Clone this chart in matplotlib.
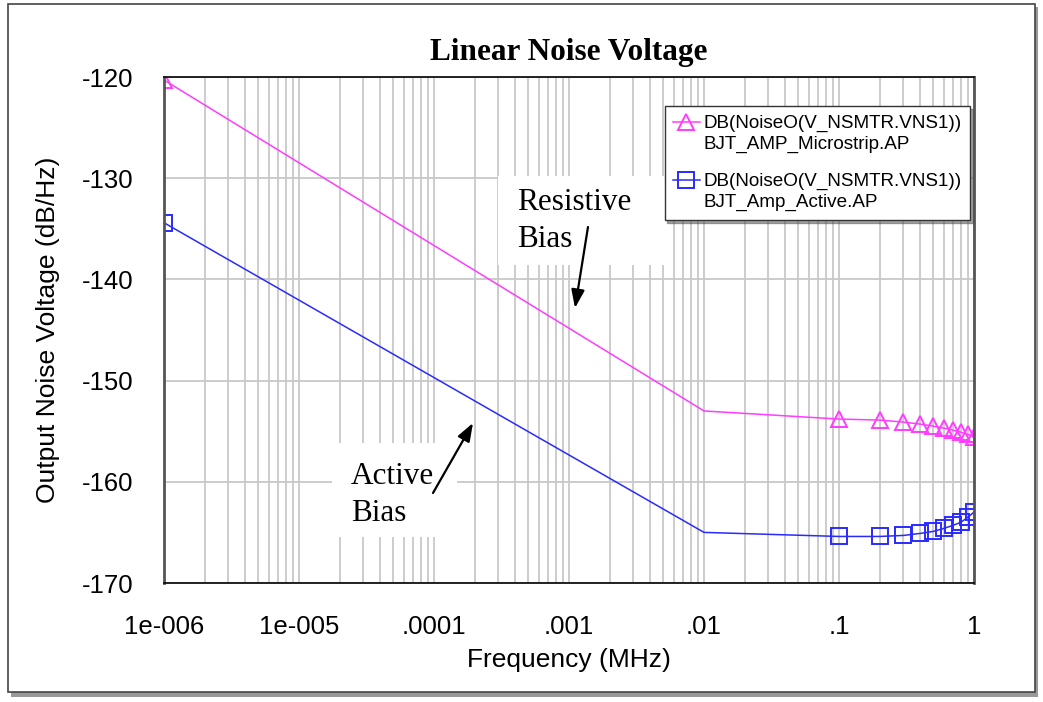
import matplotlib
matplotlib.use("Agg")
import matplotlib.pyplot as plt
import matplotlib.transforms as mtransforms
from matplotlib.patches import Rectangle
from matplotlib.legend_handler import HandlerLine2D
from matplotlib.ticker import FixedLocator, LogLocator, NullFormatter

# ---- data ----
freq = [1e-6, 0.01, 0.1, 0.2, 0.3, 0.4, 0.5, 0.6, 0.7, 0.8, 0.9, 1.0]
resistive = [-120.3, -153.0, -153.8, -153.9, -154.1, -154.3, -154.5, -154.7,
             -154.9, -155.1, -155.3, -155.6]
active = [-134.4, -165.0, -165.4, -165.4, -165.3, -165.1, -164.9, -164.6,
          -164.3, -164.0, -163.5, -163.0]
marker_idx = [0, 2, 3, 4, 5, 6, 7, 8, 9, 10, 11]
xticks = [1e-6, 1e-5, 1e-4, 1e-3, 1e-2, 1e-1, 1]
xticklabels = ["1e-006", "1e-005", ".0001", ".001", ".01", ".1", "1"]
yticks = [-170, -160, -150, -140, -130, -120]
legend_labels = ["DB(NoiseO(V_NSMTR.VNS1))\nBJT_AMP_Microstrip.AP",
                 "DB(NoiseO(V_NSMTR.VNS1))\nBJT_Amp_Active.AP"]

pink = "#ff3cff"
blue = "#2a2aff"
W, H = 1043, 702


class UpHandler(HandlerLine2D):
    """Legend handle aligned with the first line of a two-line label."""
    def __init__(self, dy, **kw):
        super().__init__(**kw)
        self.dy = dy

    def create_artists(self, legend, orig_handle, xdescent, ydescent, width,
                       height, fontsize, trans):
        t = mtransforms.Affine2D().translate(0, self.dy) + trans
        return super().create_artists(legend, orig_handle, xdescent, ydescent,
                                      width, height, fontsize, t)


fig = plt.figure(figsize=(W / 100, H / 100), dpi=100)
fig.patch.set_facecolor("white")

# outer frame with shadow
fig.patches.append(Rectangle((11 / W, 1 - 697 / H), 1027 / W, 690 / H,
                             transform=fig.transFigure, facecolor="#999999",
                             edgecolor="none", zorder=-2))
fig.patches.append(Rectangle((8 / W, 1 - 692 / H), 1027 / W, 688 / H,
                             transform=fig.transFigure, facecolor="white",
                             edgecolor="#444444", lw=1.2, zorder=-1))

ax = fig.add_axes([164 / W, 1 - 583 / H, 810 / W, 506 / H])
ax.set_zorder(1)
ax.set_xscale("log")
ax.set_xlim(1e-6, 1)
ax.set_ylim(-170, -120)

ax.xaxis.set_major_locator(FixedLocator(xticks))
ax.xaxis.set_minor_locator(LogLocator(base=10, subs=range(2, 10)))
ax.xaxis.set_minor_formatter(NullFormatter())
ax.set_xticks(xticks)
ax.set_xticklabels(xticklabels)
ax.set_yticks(yticks)
ax.set_yticklabels([str(v) for v in yticks])

ax.grid(which="major", axis="both", color="#c8c8c8", lw=1.3)
ax.grid(which="minor", axis="x", color="#c8c8c8", lw=1.3)
ax.set_axisbelow(True)
ax.tick_params(which="both", length=0, labelsize=18.5)
ax.tick_params(axis="y", pad=22)
ax.tick_params(axis="x", pad=23)
for lab in ax.get_xticklabels() + ax.get_yticklabels():
    lab.set_fontfamily("Liberation Sans")

for s in ax.spines.values():
    s.set_color("#111111")
    s.set_linewidth(1.3)
ax.spines["left"].set_color("#555555")
ax.spines["left"].set_linewidth(2)
ax.spines["right"].set_color("#555555")
ax.spines["right"].set_linewidth(2)

l1, = ax.plot(freq, resistive, color=pink, lw=1.1, marker="^", markersize=12,
              markerfacecolor="none", markeredgecolor=pink, markeredgewidth=1.4,
              markevery=marker_idx, clip_on=True, label=legend_labels[0])
l2, = ax.plot(freq, active, color=blue, lw=1.1, marker="s", markersize=12,
              markerfacecolor="none", markeredgecolor=blue, markeredgewidth=1.4,
              markevery=marker_idx, clip_on=True, label=legend_labels[1])

ax.set_xlabel("Frequency (MHz)", fontsize=19, family="Liberation Sans", labelpad=6.6)
ax.set_ylabel("Output Noise Voltage (dB/Hz)", fontsize=19, family="Liberation Sans",
              labelpad=16)
ax.set_title("Linear Noise Voltage", fontsize=22.5, family="Liberation Serif",
             fontweight="bold", pad=12)

leg = ax.legend(handles=[l1, l2], loc="upper right",
                bbox_to_anchor=((970 - 164) / 810, (583 - 106) / 506),
                prop={"family": "Liberation Sans", "size": 13.6}, frameon=True,
                fancybox=False, shadow=True, handlelength=1.4, handletextpad=0.2,
                borderpad=0.45, labelspacing=1.0, borderaxespad=0,
                handler_map={l1: UpHandler(8.3), l2: UpHandler(8.3)})
leg.get_frame().set_edgecolor("#333333")
leg.get_frame().set_linewidth(1.0)
for t in leg.get_texts():
    t.set_linespacing(1.35)


def fx(px):
    return (px - 164) / 810


def fy(py):
    return (583 - py) / 506


# annotations: white label boxes, text, arrows
ax.add_patch(Rectangle((fx(498), fy(265)), fx(665) - fx(498), fy(176) - fy(265),
                       transform=ax.transAxes, facecolor="white", edgecolor="none",
                       zorder=1.5))
ax.text(fx(517), fy(188), "Resistive\nBias", transform=ax.transAxes, fontsize=22.5,
        family="Liberation Serif", va="top", ha="left", linespacing=1.35, zorder=3)
ax.annotate("", xy=(fx(575), fy(308)), xytext=(fx(588), fy(227)),
            xycoords="axes fraction", textcoords="axes fraction",
            arrowprops=dict(arrowstyle="-|>,head_width=0.4,head_length=1.1",
                            color="black", lw=1.6, shrinkA=0, shrinkB=0))

ax.add_patch(Rectangle((fx(332), fy(537)), fx(457) - fx(332), fy(443) - fy(537),
                       transform=ax.transAxes, facecolor="white", edgecolor="none",
                       zorder=1.5))
ax.text(fx(351), fy(462), "Active\nBias", transform=ax.transAxes, fontsize=22.5,
        family="Liberation Serif", va="top", ha="left", linespacing=1.35, zorder=3)
ax.annotate("", xy=(fx(473), fy(423)), xytext=(fx(433), fy(493)),
            xycoords="axes fraction", textcoords="axes fraction",
            arrowprops=dict(arrowstyle="-|>,head_width=0.4,head_length=1.1",
                            color="black", lw=1.6, shrinkA=0, shrinkB=0))

fig.savefig("out.png", dpi=100)
